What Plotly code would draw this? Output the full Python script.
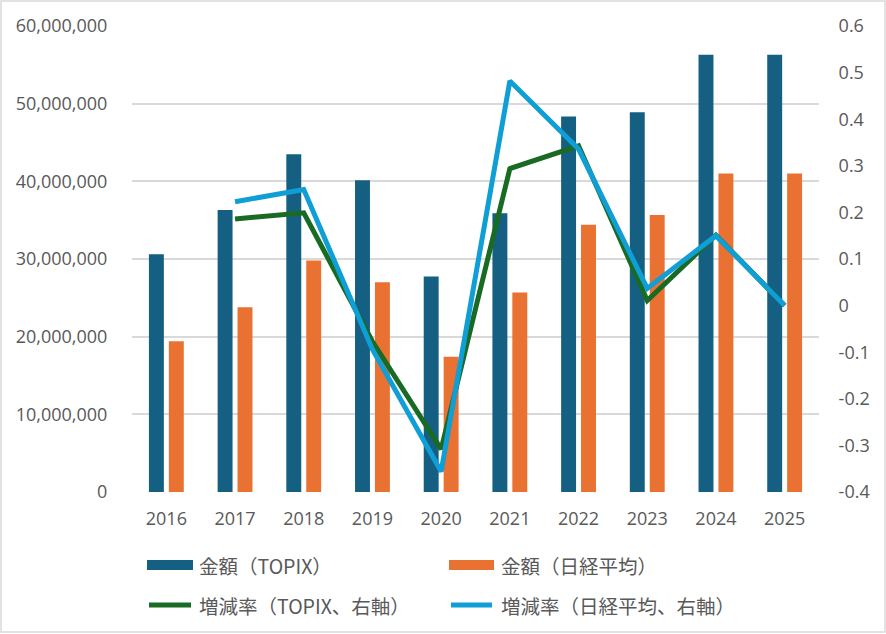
import plotly.graph_objects as go

# ---- data ----
years = ["2016", "2017", "2018", "2019", "2020", "2021", "2022", "2023", "2024", "2025"]
topix_amount = [30600000, 36300000, 43500000, 40150000, 27750000, 35900000, 48350000, 48900000, 56300000, 56300000]
nikkei_amount = [19400000, 23800000, 29800000, 27000000, 17400000, 25700000, 34400000, 35650000, 41000000, 41000000]
topix_rate = [None, 0.186, 0.199, -0.077, -0.308, 0.294, 0.343, 0.011, 0.151, 0.0]
nikkei_rate = [None, 0.223, 0.249, -0.094, -0.356, 0.482, 0.336, 0.037, 0.150, 0.0]

series_names = ["金額（TOPIX）", "金額（日経平均）", "増減率（TOPIX、右軸）", "増減率（日経平均、右軸）"]

left_tickvals = [0, 10000000, 20000000, 30000000, 40000000, 50000000, 60000000]
left_ticktext = ["0", "10,000,000", "20,000,000", "30,000,000", "40,000,000", "50,000,000", "60,000,000"]
right_tickvals = [-0.4, -0.3, -0.2, -0.1, 0, 0.1, 0.2, 0.3, 0.4, 0.5, 0.6]
right_ticktext = ["-0.4", "-0.3", "-0.2", "-0.1", "0", "0.1", "0.2", "0.3", "0.4", "0.5", "0.6"]

# ---- style ----
C_TOPIX = "#156082"
C_NIKKEI = "#E97132"
C_TOPIX_RATE = "#196B24"
C_NIKKEI_RATE = "#0F9ED5"
GRID = "#D9D9D9"
TXT = "#595959"
FONT = "Open Sans, Noto Sans CJK JP, sans-serif"
CJK = "Noto Sans CJK JP, sans-serif"

W, H = 886, 634
ML, MR, MT, MB = 132, 67, 26, 142
PW, PH = W - ML - MR, H - MT - MB


def px(xp):
    return (xp - ML) / PW


def py(yp):
    return (H - MB - yp) / PH


fig = go.Figure()
fig.add_trace(go.Bar(x=years, y=topix_amount, name=series_names[0], marker_color=C_TOPIX,
                     marker_line_width=0, showlegend=False))
fig.add_trace(go.Bar(x=years, y=nikkei_amount, name=series_names[1], marker_color=C_NIKKEI,
                     marker_line_width=0, showlegend=False))
fig.add_trace(go.Scatter(x=years, y=topix_rate, name=series_names[2], mode="lines", yaxis="y2",
                         line=dict(color=C_TOPIX_RATE, width=5), showlegend=False))
fig.add_trace(go.Scatter(x=years, y=nikkei_rate, name=series_names[3], mode="lines", yaxis="y2",
                         line=dict(color=C_NIKKEI_RATE, width=5), showlegend=False))

shapes = []
annotations = []
# outer frame
shapes.append(dict(type="rect", xref="paper", yref="paper", x0=px(1), x1=px(885), y0=py(1), y1=py(632),
                   line=dict(color=GRID, width=1.5), fillcolor="rgba(0,0,0,0)", layer="below"))

# custom legend (2 x 2)
leg_cols = [(147, 193, 198), (449, 494, 500)]
leg_rows = [565, 605]
leg_items = [
    (series_names[0], "rect", C_TOPIX, 0, 0),
    (series_names[1], "rect", C_NIKKEI, 1, 0),
    (series_names[2], "line", C_TOPIX_RATE, 0, 1),
    (series_names[3], "line", C_NIKKEI_RATE, 1, 1),
]
for name, kind, color, ci, ri in leg_items:
    x0, x1, xt = leg_cols[ci]
    yc = leg_rows[ri]
    if kind == "rect":
        shapes.append(dict(type="rect", xref="paper", yref="paper", x0=px(x0), x1=px(x1),
                           y0=py(yc - 5), y1=py(yc + 5), fillcolor=color, line=dict(width=0)))
    else:
        shapes.append(dict(type="line", xref="paper", yref="paper", x0=px(x0 + 2), x1=px(x1 - 2),
                           y0=py(yc), y1=py(yc), line=dict(color=color, width=5)))
    annotations.append(dict(xref="paper", yref="paper", x=px(xt), y=py(yc), text=name, showarrow=False,
                            xanchor="left", yanchor="middle", font=dict(family=CJK, size=19.5, color=TXT),
                            borderpad=0))

fig.update_layout(
    width=W, height=H,
    margin=dict(l=ML, r=MR, t=MT, b=MB),
    paper_bgcolor="white", plot_bgcolor="white",
    font=dict(family=FONT, size=18, color=TXT),
    barmode="group", bargap=0.42, bargroupgap=0.25,
    showlegend=False,
    xaxis=dict(type="category", showgrid=False, showline=False, zeroline=False,
               ticks="outside", ticklen=10, tickcolor="rgba(0,0,0,0)",
               tickfont=dict(family=FONT, size=18, color=TXT)),
    yaxis=dict(range=[0, 60000000], tickvals=left_tickvals, ticktext=left_ticktext,
               showgrid=True, gridcolor=GRID, gridwidth=1.5, zeroline=False, showline=False,
               ticks="outside", ticklen=20, tickcolor="rgba(0,0,0,0)",
               tickfont=dict(family=FONT, size=18, color=TXT)),
    yaxis2=dict(range=[-0.4, 0.6], tickvals=right_tickvals, ticktext=right_ticktext,
                overlaying="y", side="right", showgrid=False, zeroline=False, showline=False,
                ticks="outside", ticklen=15, tickcolor="rgba(0,0,0,0)",
                tickfont=dict(family=FONT, size=18, color=TXT)),
    shapes=shapes,
    annotations=annotations,
)

fig.write_html("out.html", config={"displayModeBar": False},
               post_script="document.body.style.margin='0';document.body.style.overflow='hidden';")
